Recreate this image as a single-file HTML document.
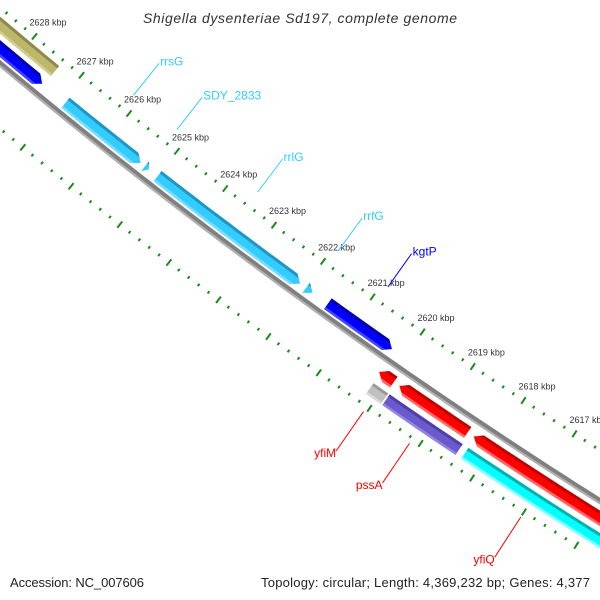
<!DOCTYPE html>
<html><head><meta charset="utf-8"><style>
html,body{margin:0;padding:0;background:#fff;}
svg{display:block;font-family:"Liberation Sans",sans-serif;}
</style></head><body>
<svg id="map" width="600" height="600" viewBox="0 0 600 600" xmlns="http://www.w3.org/2000/svg">
<rect width="600" height="600" fill="#fff"/>
<g id="ticks"></g>
<g id="backbone"></g>
<g id="features"></g>
<g id="labels"></g>
<text x="300" y="23" text-anchor="middle" font-size="14" font-style="italic" fill="#333" textLength="314">Shigella dysenteriae Sd197, complete genome</text>
<text x="10" y="587" font-size="13" fill="#222" textLength="134">Accession: NC_007606</text>
<text x="590" y="587" text-anchor="end" font-size="13" fill="#222" textLength="329">Topology: circular; Length: 4,369,232 bp; Genes: 4,377</text>
</svg>
<script>
// data (kbp positions)
const majorTicks = [2616,2617,2618,2619,2620,2621,2622,2623,2624,2625,2626,2627,2628,2629,2630];
const tickLabels = ["2616 kbp","2617 kbp","2618 kbp","2619 kbp","2620 kbp","2621 kbp","2622 kbp","2623 kbp","2624 kbp","2625 kbp","2626 kbp","2627 kbp","2628 kbp","2629 kbp","2630 kbp"];
const featureNames  = ["olive-gene","blue-gene","rrsG","SDY_2833","rrlG","rrfG","kgtP","red-small","red-gene","red-gene-2","grey-gene","pssA","yfiQ"];
const featureStart  = [2631.0, 2631.0, 2626.92, 2625.26, 2625.00, 2621.97, 2621.53, 2620.21, 2619.81, 2618.35, 2620.18, 2619.86, 2618.32];
const featureEnd    = [2627.38, 2627.41, 2625.35, 2625.18, 2622.09, 2621.84, 2620.25, 2619.92, 2618.47, 2614.0, 2619.89, 2618.43, 2614.0];
const featureTrack  = [0,1,1,1,1,1,1,2,2,2,3,3,3];
const featureArrow  = ["none","right","right","right","right","right","right","left","left","left","none","none","none"];
const featureColor  = ["#bdb76b","#0000ff","#33ccff","#33ccff","#33ccff","#33ccff","#0000ff","#ff0000","#ff0000","#ff0000","#c0c0c0","#6a5acd","#00ffff"];
const featureDark   = ["#8f8a4a","#0000b0","#2196c4","#2196c4","#2196c4","#2196c4","#0000b0","#c00000","#c00000","#c00000","#9a9a9a","#4e40a8","#00b0b0"];
const featureLight  = ["#d2ce92","#4444ff","#77ddff","#77ddff","#77ddff","#77ddff","#4444ff","#ff6666","#ff6666","#ff6666","#dadada","#9385e0","#7fffff"];
const labelNames = ["rrsG","SDY_2833","rrlG","rrfG","kgtP","yfiM","pssA","yfiQ"];
const labelPos   = [2626.13, 2625.22, 2623.54, 2621.90, 2620.89, 2620.05, 2619.15, 2617.0];
const labelSide  = ["out","out","out","out","out","in","in","in"];
const labelColor = ["#33ccff","#33ccff","#33ccff","#33ccff","#0000ff","#ff0000","#ff0000","#ff0000"];

const NS="http://www.w3.org/2000/svg";
const C=[3581,-4217], A0=129.19, K0=2627, DEG=0.631;
const tracks=[[5545,5558],[5563,5576],[5589,5602],[5608,5621]];
function ang(k){return (A0+(k-K0)*DEG)*Math.PI/180;}
function pt(k,r){const a=ang(k);return [C[0]+r*Math.cos(a),C[1]+r*Math.sin(a)];}
function mk(tag,attrs,parent){const e=document.createElementNS(NS,tag);for(const k in attrs)e.setAttribute(k,attrs[k]);parent.appendChild(e);return e;}
function arc(s,e,r){const pts=[];const n=Math.max(2,Math.ceil(Math.abs(s-e)*4));for(let i=0;i<=n;i++){pts.push(pt(s+(e-s)*i/n,r));}return pts;}
function ps(pts){return pts.map(p=>p[0].toFixed(1)+","+p[1].toFixed(1)).join(" ");}
function band(s,e,r1,r2){return ps(arc(s,e,r1).concat(arc(e,s,r2)));}

// ticks
const tg=document.getElementById('ticks');
const rowR=[5538,5631];
for(let m=26160;m<=26300;m+=2){
  const k=m/10, major=(m%10===0);
  rowR.forEach(function(R){
    const h=major?4:1.5;
    const a=pt(k,R-h), b=pt(k,R+h);
    const t=mk('line',{x1:a[0],y1:a[1],x2:b[0],y2:b[1],stroke:'#1a8a1a','stroke-width':2},tg);
    
    
  });
}
majorTicks.forEach(function(k,i){
  const p=pt(k,5538);
  const t=mk('text',{x:p[0]-5,y:p[1]-11,'font-size':9,fill:'#333'},tg);
  t.textContent=tickLabels[i];
  
  
});

// backbone
const bg=document.getElementById('backbone');
const bb1=mk('polygon',{points:band(2632,2613,5578,5582),fill:'#808080'},bg);


const bb2=mk('polygon',{points:band(2632,2613,5582,5584),fill:'#b0b0b0'},bg);



// features
const fg=document.getElementById('features');
const defs=mk('defs',{},fg);
const AH=0.13;
featureNames.forEach(function(nm,i){
  const s=featureStart[i], e=featureEnd[i], tr=tracks[featureTrack[i]];
  const r1=tr[0], r2=tr[1], rm=(r1+r2)/2;
  let shape;
  const len=s-e;
  if(featureArrow[i]==="right"){
    if(len<=AH){shape=[pt(s,r1),pt(e,rm),pt(s,r2)];}
    else shape=arc(s,e+AH,r1).concat([pt(e,rm)]).concat(arc(e+AH,s,r2));
  } else if(featureArrow[i]==="left"){
    if(len<=AH){shape=[pt(e,r1),pt(s,rm),pt(e,r2)];}
    else shape=[pt(s,rm)].concat(arc(s-AH,e,r1)).concat(arc(e,s-AH,r2));
  } else shape=arc(s,e,r1).concat(arc(e,s,r2));
  const cp=mk('clipPath',{id:'cp'+i},defs);
  mk('polygon',{points:ps(shape)},cp);
  const g=mk('g',{'clip-path':'url(#cp'+i+')'},fg);
  
  
  mk('polygon',{points:band(s+0.05,e-0.05,r1-1,r2+1),fill:featureColor[i]},g);
  mk('polygon',{points:band(s+0.05,e-0.05,r1-1,r1+3),fill:featureDark[i]},g);
  mk('polygon',{points:band(s+0.05,e-0.05,r2-2.5,r2+1),fill:featureLight[i]},g);
});

// labels
const lg=document.getElementById('labels');
labelNames.forEach(function(nm,i){
  const k=labelPos[i];
  let a,b,t;
  if(labelSide[i]==="out"){
    a=pt(k,5521); b=pt(k,5480);
  } else {
    a=pt(k,5637); b=pt(k,5685);
  }
  const l=mk('line',{x1:a[0],y1:a[1],x2:b[0],y2:b[1],stroke:labelColor[i],'stroke-width':1},lg);
  
  
  if(labelSide[i]==="out") t=mk('text',{x:b[0]+1,y:b[1]+2,'font-size':12,fill:labelColor[i]},lg);
  else t=mk('text',{x:b[0],y:b[1]+6,'font-size':12,fill:labelColor[i],'text-anchor':'end'},lg);
  t.textContent=nm;
  
  
});
</script>
</body></html>
